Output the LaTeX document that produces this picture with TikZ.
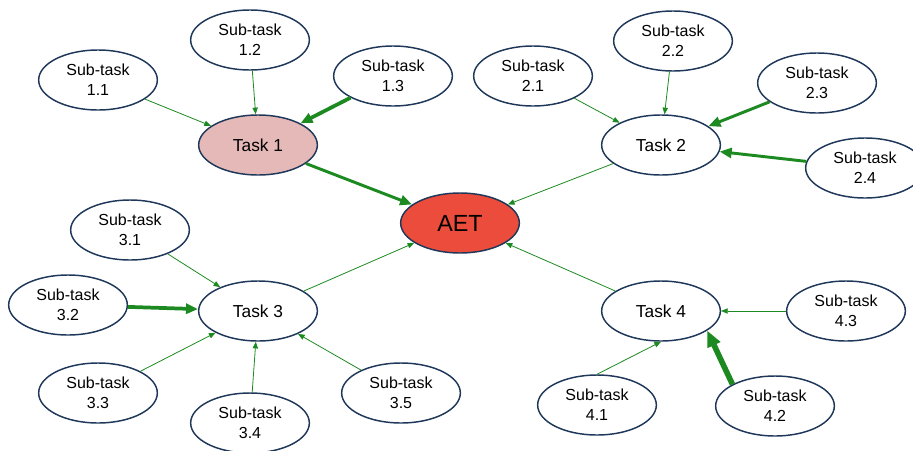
\documentclass[tikz,border=0pt]{standalone}
\usepackage{fontspec}
\setmainfont{Liberation Sans}
\usetikzlibrary{arrows.meta,shapes.geometric}
\definecolor{edgeblue}{RGB}{31,56,90}
\definecolor{arrowgreen}{RGB}{28,138,32}
\definecolor{taskpink}{RGB}{229,185,184}
\definecolor{aetred}{RGB}{236,76,60}
\begin{document}
\begin{tikzpicture}[x=0.75pt,y=-0.75pt,
  base/.style={ellipse,draw=edgeblue,line width=1.1pt,fill=white,inner sep=0pt,minimum width=89pt,minimum height=45pt},
  sub/.style={base,align=center,font=\fontsize{12}{15}\selectfont},
  task/.style={base,font=\fontsize{13}{15}\selectfont},
  aet/.style={base,fill=aetred,font=\fontsize{17.5}{20}\selectfont},
  thin/.style={draw=arrowgreen,line width=0.6pt,-{Triangle[length=5pt,width=4pt]}},
  thick/.style={draw=arrowgreen,line width=2.2pt,-{Triangle[length=9pt,width=7.5pt]}},
  thicker/.style={draw=arrowgreen,line width=4.2pt,-{Triangle[length=12pt,width=10pt]}}]
\useasboundingbox (0,0) rectangle (913,450);
% main nodes
\node[aet] (aet) at (460,223) {AET};
\node[task,fill=taskpink] (t1) at (258,145) {Task 1};
\node[task] (t2) at (661,145) {Task 2};
\node[task] (t3) at (258,311) {Task 3};
\node[task] (t4) at (661,311) {Task 4};
% sub-tasks
\node[sub] (s11) at (98,80) {Sub-task\\1.1};
\node[sub] (s12) at (250,40) {Sub-task\\1.2};
\node[sub] (s13) at (393,76) {Sub-task\\1.3};
\node[sub] (s21) at (533,76) {Sub-task\\2.1};
\node[sub] (s22) at (673,41) {Sub-task\\2.2};
\node[sub] (s23) at (817,83) {Sub-task\\2.3};
\node[sub] (s24) at (865,168) {Sub-task\\2.4};
\node[sub] (s31) at (130,230) {Sub-task\\3.1};
\node[sub] (s32) at (68,305) {Sub-task\\3.2};
\node[sub] (s33) at (98,393) {Sub-task\\3.3};
\node[sub] (s34) at (250,423) {Sub-task\\3.4};
\node[sub] (s35) at (401,393) {Sub-task\\3.5};
\node[sub] (s41) at (597,405) {Sub-task\\4.1};
\node[sub] (s42) at (775,406) {Sub-task\\4.2};
\node[sub] (s43) at (846,311) {Sub-task\\4.3};
% connectors
\draw[thick] (t1) -- (aet);
\draw[thin] (t2) -- (aet);
\draw[thin] (t3) -- (aet);
\draw[thin] (t4) -- (aet);
\draw[thin] (s11) -- (t1);
\draw[thin] (s12) -- (t1);
\draw[thick,line width=2.8pt] (s13) -- (t1);
\draw[thin] (s21) -- (t2);
\draw[thin] (s22) -- (t2);
\draw[thick] (s23) -- (t2);
\draw[thick] (s24) -- (t2);
\draw[thin] (s31) -- (t3);
\draw[thick,line width=2.8pt] (s32) -- (t3);
\draw[thin] (s33) -- (t3);
\draw[thin] (s34) -- (t3);
\draw[thin] (s35) -- (t3);
\draw[thin] (s41.north) -- (t4.south);
\draw[thicker] (s42.153) -- (t4.-23);
\draw[thin] (s43) -- (t4);
\end{tikzpicture}
\end{document}
